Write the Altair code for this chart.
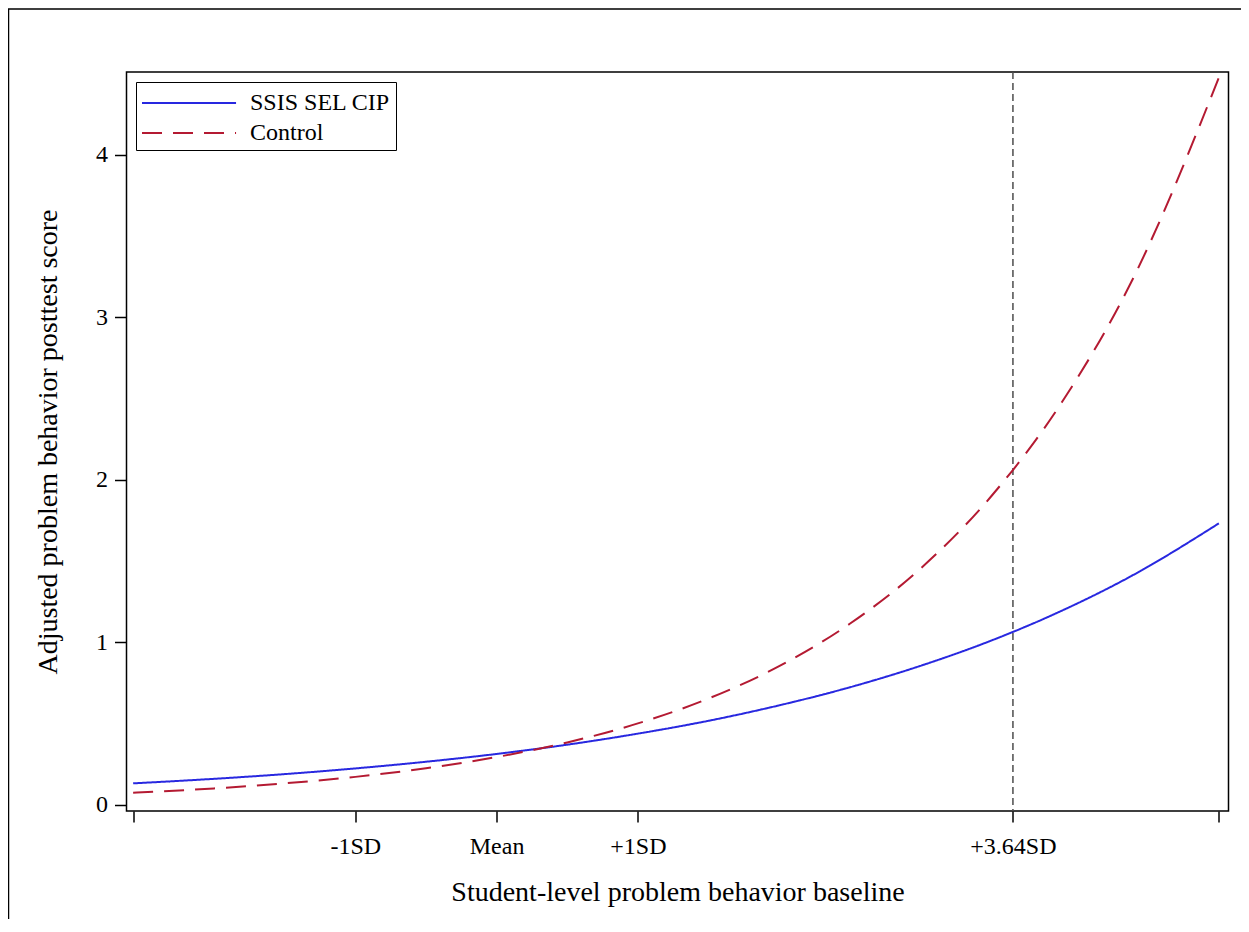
import altair as alt
import pandas as pd

# x positions in SD units relative to the mean
x_sd = [-2.573, -2.0, -1.5, -1.0, -0.5, 0.0, 0.5, 1.0, 1.5, 2.0, 2.5, 3.0, 3.5, 4.0, 4.5, 5.113]
ssis = [0.133, 0.161, 0.190, 0.225, 0.266, 0.314, 0.371, 0.439, 0.518, 0.613, 0.724, 0.856, 1.011, 1.195, 1.412, 1.733]
control = [0.075, 0.102, 0.133, 0.173, 0.226, 0.295, 0.385, 0.502, 0.655, 0.854, 1.115, 1.454, 1.898, 2.476, 3.230, 4.476]

series_names = ["SSIS SEL CIP", "Control"]
series_colors = ["#2828e0", "#b41a32"]

tick_values = [-2.573, -1.0, 0.0, 1.0, 3.655, 5.113]
tick_labels = ["", "-1SD", "Mean", "+1SD", "+3.64SD", ""]
ref_x = [3.655]

y_ticks = [0, 1, 2, 3, 4]

FONT = "Liberation Serif"
W, H = 1102, 739

rows = []
for x, a, b in zip(x_sd, ssis, control):
    rows.append({"x": x, "y": a, "series": series_names[0]})
    rows.append({"x": x, "y": b, "series": series_names[1]})
df = pd.DataFrame(rows)

label_expr = ""
for v, l in zip(tick_values, tick_labels):
    label_expr += f"abs(datum.value - ({v})) < 0.001 ? '{l}' : "
label_expr += "''"

xscale = alt.Scale(domain=[-2.62, 5.181], nice=False, zero=False)
yscale = alt.Scale(domain=[-0.037, 4.51], nice=False, zero=False)

xaxis = alt.Axis(
    values=tick_values, labelExpr=label_expr, title="Student-level problem behavior baseline",
    grid=False, tickSize=11, tickWidth=1.5, tickColor="black", domain=False,
    labelFont=FONT, labelFontSize=24, labelColor="black", labelPadding=12,
    titleFont=FONT, titleFontSize=28, titleFontWeight="normal", titleColor="black", titlePadding=20,
)
yaxis = alt.Axis(
    values=y_ticks, format="d", title="Adjusted problem behavior posttest score",
    grid=False, tickSize=12, tickWidth=1.5, tickColor="black", domain=False,
    labelFont=FONT, labelFontSize=24, labelColor="black", labelPadding=7,
    titleFont=FONT, titleFontSize=28, titleFontWeight="normal", titleColor="black", titlePadding=33,
)

lines = alt.Chart(df).mark_line(strokeWidth=2, interpolate="monotone").encode(
    x=alt.X("x:Q", scale=xscale, axis=xaxis),
    y=alt.Y("y:Q", scale=yscale, axis=yaxis),
    color=alt.Color("series:N", scale=alt.Scale(domain=series_names, range=series_colors),
                    legend=alt.Legend(
                        title=None, orient="none", legendX=9.5, legendY=10,
                        symbolType="M-1,0H5.27", symbolSize=900, symbolStrokeWidth=2,
                        labelFont=FONT, labelFontSize=24, labelColor="black", labelOffset=77,
                        strokeColor="black", fillColor="white", padding=5, rowPadding=2,
                    )),
    strokeDash=alt.StrokeDash("series:N", scale=alt.Scale(domain=series_names, range=[[1, 0], [20, 11]]),
                              legend=None),
    detail="series:N",
)

ref = alt.Chart(pd.DataFrame({"x": ref_x})).mark_rule(
    color="#4d4d4d", strokeWidth=1.5, strokeDash=[7, 4]
).encode(x=alt.X("x:Q", scale=xscale))

border = alt.Chart(pd.DataFrame({"a": [0]})).mark_rect(
    filled=False, stroke="black", strokeWidth=1.5
).encode(x=alt.value(-118), x2=alt.value(W + 60), y=alt.value(-63), y2=alt.value(H + 300))

chart = alt.layer(border, ref, lines).properties(
    width=W, height=H,
    background="white",
    autosize=alt.AutoSizeParams(type="none"),
    padding={"left": 118.5, "top": 64, "right": 12, "bottom": 108},
).configure_view(stroke="black", strokeWidth=1.5)

chart.save("out.html", embed_options={"renderer": "svg", "actions": False})
